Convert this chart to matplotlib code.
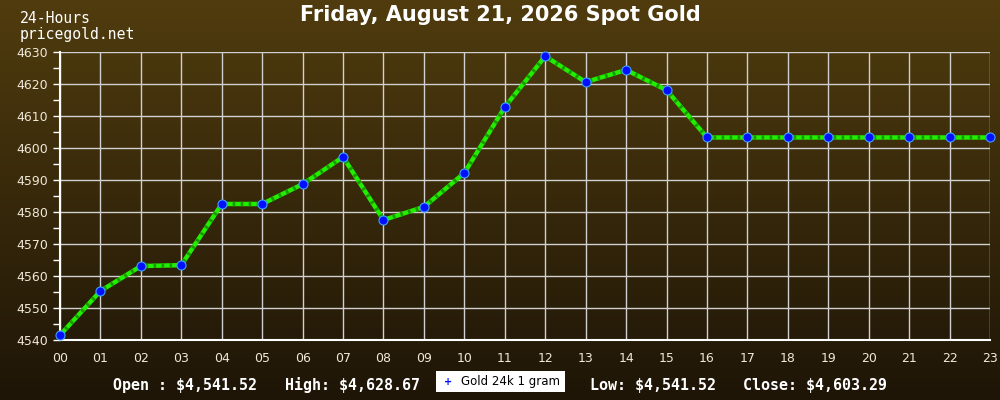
import numpy as np
import matplotlib
matplotlib.use("Agg")
import matplotlib.pyplot as plt
from matplotlib.ticker import MultipleLocator

hours = ["00", "01", "02", "03", "04", "05", "06", "07", "08", "09", "10", "11",
         "12", "13", "14", "15", "16", "17", "18", "19", "20", "21", "22", "23"]
prices = [4541.52, 4555.3, 4563.1, 4563.4, 4582.5, 4582.5, 4588.7, 4597.2,
          4577.5, 4581.6, 4592.2, 4612.8, 4628.67, 4620.6, 4624.4, 4618.1,
          4603.29, 4603.29, 4603.29, 4603.29, 4603.29, 4603.29, 4603.29, 4603.29]
title = "Friday, August 21, 2026 Spot Gold"
series_name = "Gold 24k 1 gram"
stats = ["Open : $4,541.52", "High: $4,628.67", "Low: $4,541.52", "Close: $4,603.29"]

fig = plt.figure(figsize=(10, 4), dpi=100)

# background gradient
bg = fig.add_axes([0, 0, 1, 1], zorder=0)
grad = np.linspace(0, 1, 256).reshape(-1, 1)
top = np.array([0x50, 0x3c, 0x0e]) / 255
bot = np.array([0x1e, 0x15, 0x07]) / 255
img = top + (bot - top) * grad[:, :, None]
bg.imshow(img, aspect="auto", extent=[0, 1, 0, 1])
bg.axis("off")

ax = fig.add_axes([0.06, 0.15, 0.93, 0.72], zorder=1)
ax.set_facecolor("none")
x = np.arange(len(hours))
ax.plot(x, prices, color="#22ee00", lw=3.2, zorder=3, solid_capstyle="butt")
ax.plot(x, prices, color="#1a9a00", lw=3.2, zorder=3, dashes=(0.6, 1.2))
ax.plot(x, prices, ls="none", marker="o", ms=6.5, mfc="#0010ff", mec="#40a0ff",
        mew=0.8, zorder=4, clip_on=False)

ax.set_xlim(0, len(hours) - 1)
ax.set_ylim(4540, 4630)
ax.set_xticks(x)
ax.set_xticklabels(hours)
ax.yaxis.set_major_locator(MultipleLocator(10))
ax.yaxis.set_minor_locator(MultipleLocator(5))
ax.grid(True, color="#d0d0d0", lw=1.0, zorder=1)
for s in ["top", "right"]:
    ax.spines[s].set_visible(False)
for s in ["left", "bottom"]:
    ax.spines[s].set_color("white")
    ax.spines[s].set_linewidth(1.5)
ax.tick_params(axis="y", which="both", colors="white", labelcolor="#f0e8d8",
               labelsize=9, length=5, width=1)
ax.tick_params(axis="x", length=0, pad=9, labelcolor="#f0e8d8", labelsize=9)

fig.text(0.5, 0.963, title, ha="center", va="center", color="white",
         fontsize=15, fontweight="bold", family="DejaVu Sans")
fig.text(0.02, 0.953, "24-Hours", ha="left", va="center", color="white",
         fontsize=10.6, family="DejaVu Sans Mono")
fig.text(0.02, 0.915, "pricegold.net", ha="left", va="center", color="white",
         fontsize=10.6, family="DejaVu Sans Mono")

sy = 0.037
mono = dict(color="white", fontsize=10.8, family="DejaVu Sans Mono", va="center",
            fontweight="bold")
fig.text(0.113, sy, stats[0], **mono)
fig.text(0.285, sy, stats[1], **mono)
fig.text(0.590, sy, stats[2], **mono)
fig.text(0.743, sy, stats[3], **mono)

# legend box
fig.patches.append(plt.Rectangle((0.436, 0.02), 0.129, 0.053, transform=fig.transFigure,
                                 facecolor="white", edgecolor="none", zorder=2))
fig.text(0.448, 0.046, "+", color="#0010ff", fontsize=7, fontweight="bold",
         ha="center", va="center", zorder=3)
fig.text(0.461, 0.047, series_name, color="black", fontsize=8.5, va="center", zorder=3)

fig.savefig("out.png", dpi=100)
